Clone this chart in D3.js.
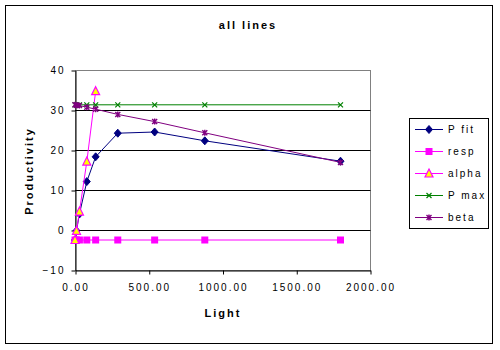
<!DOCTYPE html>
<html>
<head>
<meta charset="utf-8">
<script src="https://cdn.jsdelivr.net/npm/d3@7"></script>
<style>
  html, body { margin: 0; padding: 0; background: #fff; }
  svg { display: block; font-family: Arial, "Liberation Sans", sans-serif; }
  text { letter-spacing: 2px; }
</style>
</head>
<body>
<svg id="chart" width="500" height="350"></svg>
<script>
// Light levels shared by every series
const light = [0, 10, 30, 80, 140, 290, 540, 880, 1800];
// Series values (Productivity)
const pFit  = [-2.5, -0.2, 4.0, 12.1, 18.3, 24.2, 24.5, 22.3, 17.2];
const resp  = [-2.5, -2.5, -2.5, -2.5, -2.5, -2.5, -2.5, -2.5, -2.5];
const alpha = [-2.5, -0.2, 4.6, 17.1, 34.7];
const pMax  = [31.3, 31.3, 31.3, 31.3, 31.3, 31.3, 31.3, 31.3, 31.3];
const beta  = [31.3, 31.2, 31.1, 30.7, 30.2, 28.9, 27.1, 24.3, 16.9];
// Axis ticks
const xTicks = [0, 500, 1000, 1500, 2000];
const yTicks = [-10, 0, 10, 20, 30, 40];
const seriesNames = ["P fit", "resp", "alpha", "P max", "beta"];

const series = [
  { name: seriesNames[0], values: pFit,  color: "#000080", marker: "diamond" },
  { name: seriesNames[1], values: resp,  color: "#FF00FF", marker: "square" },
  { name: seriesNames[2], values: alpha, color: "#FF00FF", marker: "triangle" },
  { name: seriesNames[3], values: pMax,  color: "#008000", marker: "cross" },
  { name: seriesNames[4], values: beta,  color: "#800080", marker: "star" }
];

const svg = d3.select("#chart");

// Outer chart frame
svg.append("rect").attr("x", 5.5).attr("y", 5.5).attr("width", 487).attr("height", 338)
  .attr("fill", "#fff").attr("stroke", "#000").attr("stroke-width", 1);

const plot = { left: 75, right: 370, top: 70, bottom: 270 };
const x = d3.scaleLinear().domain([0, 2000]).range([plot.left, plot.right]);
const y = d3.scaleLinear().domain([-10, 40]).range([plot.bottom, plot.top]);

// Plot area border (grey)
svg.append("rect")
  .attr("x", plot.left + 0.5).attr("y", plot.top + 0.5)
  .attr("width", plot.right - plot.left).attr("height", plot.bottom - plot.top)
  .attr("fill", "#fff").attr("stroke", "#808080");

// Horizontal gridlines
svg.append("g").selectAll("line")
  .data(yTicks.filter(v => v > -10 && v < 40))
  .join("line")
  .attr("x1", plot.left).attr("x2", plot.right + 0.5)
  .attr("y1", d => Math.round(y(d)) + 0.5).attr("y2", d => Math.round(y(d)) + 0.5)
  .attr("stroke", "#000");

// Axes
const xAxis = svg.append("g")
  .attr("transform", `translate(0.5,${plot.bottom + 0.5})`)
  .call(d3.axisBottom(x).tickValues(xTicks).tickSizeOuter(0).tickSizeInner(4).tickPadding(9)
    .tickFormat(d3.format(".2f")));
const yAxis = svg.append("g")
  .attr("transform", `translate(${plot.left + 0.5},0.5)`)
  .call(d3.axisLeft(y).tickValues(yTicks).tickSizeOuter(0).tickSizeInner(4).tickPadding(8)
    .tickFormat(d3.format("d")));
[xAxis, yAxis].forEach(g => {
  g.select(".domain").attr("stroke", "#000");
  g.selectAll(".tick line").attr("stroke", "#000");
  g.selectAll(".tick text").attr("fill", "#000")
    .attr("font-size", 10).attr("font-family", "Arial, 'Liberation Sans', sans-serif");
});
yAxis.selectAll(".tick text").attr("dx", 2);

// Marker shapes
function drawMarker(g, type, color, cx, cy) {
  if (type === "diamond") {
    g.append("path").attr("d", `M${cx},${cy - 4}L${cx + 3.5},${cy}L${cx},${cy + 4}L${cx - 3.5},${cy}Z`)
      .attr("fill", color).attr("stroke", color);
  } else if (type === "square") {
    g.append("rect").attr("x", cx - 3.5).attr("y", cy - 3.5).attr("width", 7).attr("height", 7)
      .attr("fill", color);
  } else if (type === "triangle") {
    g.append("path").attr("d", `M${cx},${cy - 4.5}L${cx + 4},${cy + 3.5}L${cx - 4},${cy + 3.5}Z`)
      .attr("fill", "#FFFF00").attr("stroke", color).attr("stroke-width", 1.2);
  } else if (type === "cross") {
    g.append("path").attr("d", `M${cx - 2.5},${cy - 2.5}L${cx + 2.5},${cy + 2.5}M${cx - 2.5},${cy + 2.5}L${cx + 2.5},${cy - 2.5}`)
      .attr("stroke", color).attr("stroke-width", 1.2);
  } else if (type === "star") {
    g.append("path").attr("d", `M${cx - 2.5},${cy - 2.5}L${cx + 2.5},${cy + 2.5}M${cx - 2.5},${cy + 2.5}L${cx + 2.5},${cy - 2.5}M${cx},${cy - 3}L${cx},${cy + 3}`)
      .attr("stroke", color).attr("stroke-width", 1.4);
  }
}

// Series lines and markers
const line = d3.line().x(d => x(d[0])).y(d => y(d[1]));
series.forEach(s => {
  const pts = s.values.map((v, i) => [light[i], v]);
  const g = svg.append("g");
  g.append("path").datum(pts).attr("d", line)
    .attr("fill", "none").attr("stroke", s.color).attr("stroke-width", 1);
  pts.forEach(p => drawMarker(g, s.marker, s.color, x(p[0]), y(p[1])));
});

// Titles
svg.append("text").attr("x", 248).attr("y", 29).attr("text-anchor", "middle")
  .attr("font-size", 11).attr("font-weight", "bold").text("all lines");
svg.append("text").attr("x", 223).attr("y", 317).attr("text-anchor", "middle")
  .attr("font-size", 11).attr("font-weight", "bold").text("Light");
svg.append("text").attr("transform", "translate(33,171) rotate(-90)").attr("text-anchor", "middle")
  .attr("font-size", 11).attr("font-weight", "bold").text("Productivity");

// Legend
const lg = svg.append("g");
lg.append("rect").attr("x", 409.5).attr("y", 118.5).attr("width", 79).attr("height", 110)
  .attr("fill", "#fff").attr("stroke", "#000");
series.forEach((s, i) => {
  const ly = 129.5 + i * 22;
  lg.append("line").attr("x1", 415).attr("x2", 443).attr("y1", ly).attr("y2", ly)
    .attr("stroke", s.color);
  drawMarker(lg, s.marker, s.color, 429, ly);
  lg.append("text").attr("x", 448).attr("y", ly).attr("dy", "0.35em")
    .attr("font-size", 10).text(s.name);
});
</script>
</body>
</html>
